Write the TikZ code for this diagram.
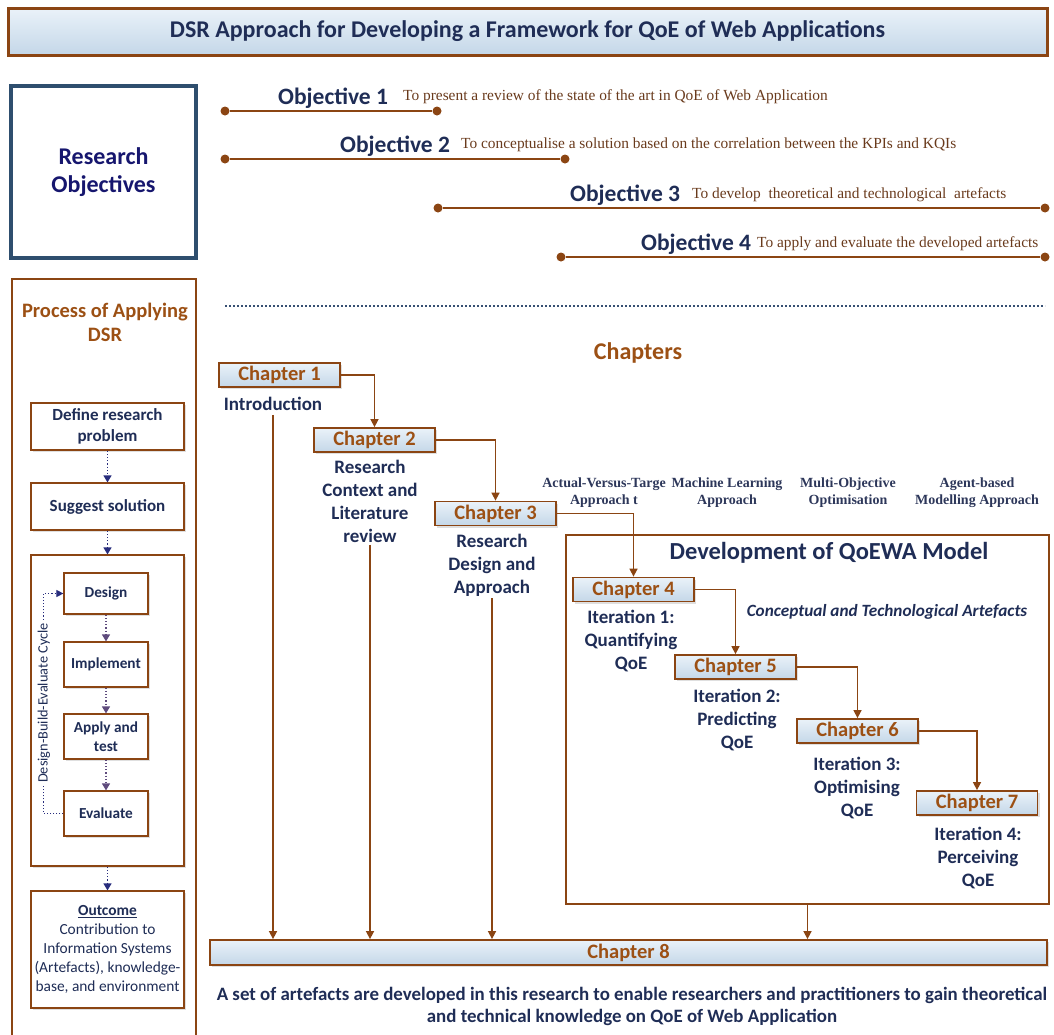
\documentclass[tikz,border=0pt]{standalone}
\usepackage{fontspec}
\setmainfont{Carlito}
\newfontfamily\descfont{Liberation Serif}
\usetikzlibrary{arrows.meta,shadows}

\definecolor{brn}{RGB}{139,69,19}
\definecolor{chaptxt}{RGB}{156,80,20}
\definecolor{navy}{RGB}{31,45,86}
\definecolor{deepnavy}{RGB}{22,22,110}
\definecolor{roframe}{RGB}{46,78,110}
\definecolor{desctxt}{RGB}{105,58,28}
\definecolor{apptxt}{RGB}{45,55,90}
\definecolor{dotnavy}{RGB}{40,45,125}
\definecolor{sepblue}{RGB}{55,80,115}
\definecolor{dotpurple}{RGB}{95,75,125}
\definecolor{boxtop}{RGB}{234,242,249}
\definecolor{boxbot}{RGB}{196,215,232}

\begin{document}
\begin{tikzpicture}[x=1pt,y=-1pt,
  shade/.style={drop shadow={opacity=0.25,shadow xshift=2pt,shadow yshift=-2pt}},
  chap/.style={draw=brn,line width=1.8pt,top color=boxtop,bottom color=boxbot,
    minimum width=121pt,minimum height=24pt,inner sep=0pt,
    font=\bfseries\fontsize{20.5}{22}\selectfont,text=chaptxt,shade},
  note/.style={font=\bfseries\fontsize{19}{23}\selectfont,text=navy,align=center,inner sep=0pt},
  flow/.style={draw=brn,line width=1.5pt,-{Triangle[length=8pt,width=8pt]}},
  objline/.style={draw=brn,line width=2.2pt},
  enddot/.style={circle,fill=brn,minimum size=9pt,inner sep=0pt},
  objlabel/.style={font=\bfseries\fontsize{23.5}{26}\selectfont,text=navy,inner sep=0pt},
  desc/.style={font=\descfont\fontsize{15.4}{18}\selectfont,text=desctxt,inner sep=0pt},
  approach/.style={font=\descfont\bfseries\fontsize{14}{17}\selectfont,text=apptxt,align=center,inner sep=0pt},
  procbox/.style={draw=brn,line width=1.2pt,fill=white,align=center,inner sep=0pt,
    font=\bfseries\fontsize{17}{21}\selectfont,text=navy,shade},
  stepbox/.style={procbox,minimum width=84pt,font=\bfseries\fontsize{15.3}{19}\selectfont},
  dotarrow/.style={draw=dotnavy,line width=1.2pt,dotted,-{Triangle[length=7pt,width=8pt]}},
  cyclearrow/.style={draw=dotpurple,line width=1.2pt,dotted,-{Triangle[length=7pt,width=8pt]}}
]
\useasboundingbox (0,0) rectangle (1054,1034);

% ---------- title ----------
\node[draw=brn,line width=3pt,top color=boxtop,bottom color=boxbot,shade,
  minimum width=1039pt,minimum height=47pt,inner sep=0pt,
  font=\bfseries\fontsize{24}{26}\selectfont,text=navy] (title) at (527.5,31.5)
  {DSR Approach for Developing a Framework for QoE of Web Applications};

% ---------- research objectives ----------
\node[draw=roframe,line width=4pt,fill=white,shade,minimum width=185pt,minimum height=172pt,
  inner sep=0pt,align=center,font=\bfseries\fontsize{24}{28}\selectfont,text=deepnavy]
  (ro) at (103.5,172) {Research\\Objectives};

\node[enddot] (o1a) at (225,111) {};
\node[enddot] (o1b) at (437,111) {};
\draw[objline] (o1a) -- (o1b);
\node[objlabel,anchor=base west] (o1) at (278,104) {Objective 1};
\node[desc,anchor=base west] (d1) at (403,100)
  {To present a review of the state of the art in QoE of Web Application};

\node[enddot] (o2a) at (225,159) {};
\node[enddot] (o2b) at (565,159) {};
\draw[objline] (o2a) -- (o2b);
\node[objlabel,anchor=base west] (o2) at (340,152) {Objective 2};
\node[desc,anchor=base west] (d2) at (461,148)
  {To conceptualise a solution based on the correlation between the KPIs and KQIs};

\node[enddot] (o3a) at (438,208) {};
\node[enddot] (o3b) at (1045,208) {};
\draw[objline] (o3a) -- (o3b);
\node[objlabel,anchor=base west] (o3) at (570,201) {Objective 3};
\node[desc,anchor=base west] (d3) at (692,198)
  {To develop\ \ theoretical and technological\ \ artefacts};

\node[enddot] (o4a) at (561,257) {};
\node[enddot] (o4b) at (1045,257) {};
\draw[objline] (o4a) -- (o4b);
\node[objlabel,anchor=base west] (o4) at (641,250) {Objective 4};
\node[desc,anchor=base west] (d4) at (757,247)
  {To apply and evaluate the developed artefacts};

\coordinate (sepl) at (225,306);
\coordinate (sepr) at (1045,306);
\draw[sepblue,line width=1.8pt,dash pattern=on 2.4pt off 1.6pt] (sepl) -- (sepr);

% ---------- process of applying DSR ----------
\begin{scope}
\clip (0,0) rectangle (1054,1034);
\draw[brn,line width=2pt] (12,1040) -- (12,279) -- (196,279) -- (196,1040);
\end{scope}
\node[font=\bfseries\fontsize{20.5}{24}\selectfont,text=chaptxt,align=center,inner sep=0pt]
  (proc) at (105,322) {Process of Applying\\DSR};

\node[procbox,minimum width=153pt,minimum height=47pt] (define) at (107.5,426.5)
  {Define research\\problem};
\node[procbox,minimum width=153pt,minimum height=47pt] (suggest) at (107.5,506.5)
  {Suggest solution};
\node[draw=brn,line width=1.2pt,fill=white,shade,minimum width=153pt,minimum height=311pt,
  inner sep=0pt] (cycle) at (107.5,710.5) {};
\node[stepbox,minimum height=41pt] (design) at (106,593.5) {Design};
\node[stepbox,minimum height=45pt] (impl) at (106,664.5) {Implement};
\node[stepbox,minimum height=45pt] (apply) at (106,736.5) {Apply and\\test};
\node[stepbox,minimum height=45pt] (eval) at (106,813.5) {Evaluate};
\node[procbox,minimum width=153pt,minimum height=117pt,
  font=\fontsize{15.4}{19}\selectfont] (outcome) at (107.5,949.5)
  {\textbf{\underline{Outcome}}\\Contribution to\\Information Systems\\(Artefacts), knowledge-\\base, and environment};

\draw[dotarrow] (define) -- (suggest);
\draw[dotarrow] (suggest) -- (cycle);
\draw[dotarrow] (cycle) -- (outcome);
\draw[cyclearrow] (design) -- (impl);
\draw[cyclearrow] (impl) -- (apply);
\draw[cyclearrow] (apply) -- (eval);
\draw[dotnavy,line width=1.1pt,dotted,-{Triangle[length=7pt,width=7pt]}]
  (eval.west) -- ++(-20,0) |- (design.west);
\node[rotate=90,fill=white,inner sep=1pt,font=\fontsize{14.3}{16}\selectfont,text=navy]
  (cyclelbl) at (44,703) {Design-Build-Evaluate Cycle};

% ---------- chapters ----------
\node[font=\bfseries\fontsize{24}{26}\selectfont,text=chaptxt,inner sep=0pt] (chapters) at (638,353) {Chapters};

\node[approach] (ap1) at (604,493) {Actual-Versus-Targe\\Approach t};
\node[approach] (ap2) at (727,493) {Machine Learning\\Approach};
\node[approach] (ap3) at (848,493) {Multi-Objective\\Optimisation};
\node[approach] (ap4) at (977,493) {Agent-based\\Modelling Approach};

\node[draw=brn,line width=2.5pt,minimum width=483pt,minimum height=369pt,inner sep=0pt]
  (dev) at (807.5,719.5) {};
\node[font=\bfseries\fontsize{24.5}{26}\selectfont,text=navy,inner sep=0pt] (devtitle) at (829,553)
  {Development of QoEWA Model};
\node[font=\bfseries\itshape\fontsize{17.2}{19}\selectfont,text=navy,inner sep=0pt] (artef) at (887,612)
  {Conceptual and Technological Artefacts};

\node[chap] (c1) at (279.5,375) {Chapter 1};
\node[chap] (c2) at (374.5,440) {Chapter 2};
\node[chap] (c3) at (495.5,513.5) {Chapter 3};
\node[chap] (c4) at (633.5,589.5) {Chapter 4};
\node[chap] (c5) at (735.5,667) {Chapter 5};
\node[chap] (c6) at (857.5,731) {Chapter 6};
\node[chap] (c7) at (977,803) {Chapter 7};
\node[chap,minimum width=837pt,minimum height=25pt] (c8) at (628.5,952.5) {Chapter 8};

\node[note] (t1) at (273,404) {Introduction};
\node[note] (t2) at (370,501.5) {Research\\Context and\\Literature\\review};
\node[note] (t3) at (492,565) {Research\\Design and\\Approach};
\node[note] (t4) at (631,640.5) {Iteration 1:\\Quantifying\\QoE};
\node[note] (t5) at (737,719.5) {Iteration 2:\\Predicting\\QoE};
\node[note] (t6) at (857,788) {Iteration 3:\\Optimising\\QoE};
\node[note] (t7) at (978,858) {Iteration 4:\\Perceiving\\QoE};

\draw[flow] (c1.east) -| (c2.north);
\draw[flow] (c2.east) -| (c3.north);
\draw[flow] (c3.east) -| (c4.north);
\draw[flow] (c4.east) -| (c5.north);
\draw[flow] (c5.east) -| (c6.north);
\draw[flow] (c6.east) -| (c7.north);

\draw[flow] (t1.south) ++(0,4) -- (t1.south |- c8.north);
\draw[flow] (t2.south) ++(0,2) -- (t2.south |- c8.north);
\draw[flow] (t3.south) ++(0,2) -- (t3.south |- c8.north);
\draw[flow] (dev.south) -- (dev.south |- c8.north);

\node[font=\bfseries\fontsize{18.9}{22}\selectfont,text=navy,align=center,inner sep=0pt]
  (summary) at (632,1006)
  {A set of artefacts are developed in this research to enable researchers and practitioners to gain theoretical\\
   and technical knowledge on QoE of Web Application};
\end{tikzpicture}
\end{document}
